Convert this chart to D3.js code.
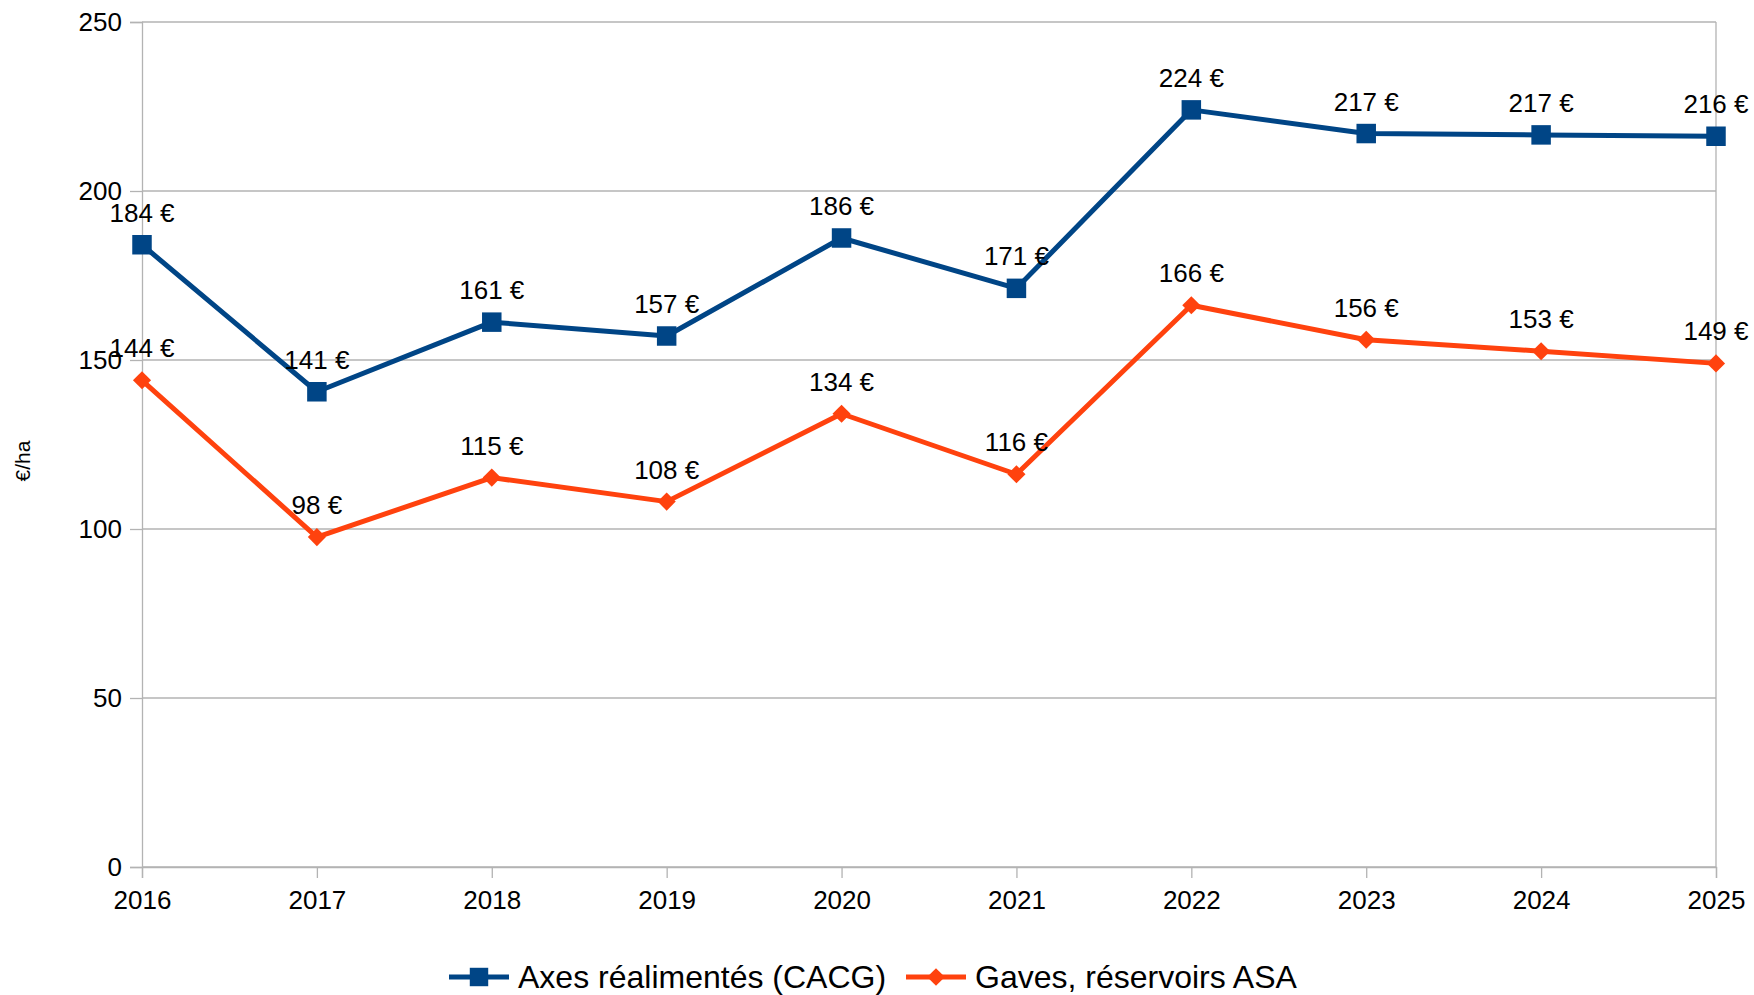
<!DOCTYPE html>
<html>
<head>
<meta charset="utf-8">
<script src="https://cdn.jsdelivr.net/npm/d3@7"></script>
<style>
  body { margin: 0; background: #fff; }
  text { font-family: "Liberation Sans", Arial, sans-serif; fill: #000; }
</style>
</head>
<body>
<div id="chart"></div>
<script>
// data
var years = ["2016", "2017", "2018", "2019", "2020", "2021", "2022", "2023", "2024", "2025"]
var cacg = [184.1, 140.6, 161.2, 157.1, 186.1, 171.2, 224.0, 217.0, 216.6, 216.2]
var gaves = [144.0, 97.6, 115.2, 108.1, 134.1, 116.2, 166.2, 156.0, 152.6, 149.0]
var yTicks = [0, 50, 100, 150, 200, 250]
var seriesNames = ["Axes réalimentés (CACG)", "Gaves, réservoirs ASA"]

var W = 1754, H = 995
var margin = { top: 22, right: 38, bottom: 128, left: 142 }
var width = W - margin.left - margin.right,
    height = H - margin.top - margin.bottom

var blue = "#004586", orange = "#ff420e", grid = "#b3b3b3"

var svg = d3.select("#chart")
    .append("svg")
    .attr("width", W)
    .attr("height", H)

var g = svg.append("g")
    .attr("transform", "translate(" + margin.left + "," + margin.top + ")")

var x = d3.scalePoint()
    .domain(years)
    .range([0, width])

var y = d3.scaleLinear()
    .domain([0, 250])
    .range([height, 0])

// y axis + horizontal grid
var yAxis = g.append("g")
    .call(d3.axisLeft(y).tickValues(yTicks).tickSize(12).tickPadding(8))
yAxis.select(".domain").attr("stroke", grid).attr("stroke-width", 1.3)
yAxis.selectAll(".tick line").attr("stroke", grid).attr("stroke-width", 1.3)
yAxis.selectAll(".tick text")
    .style("font-size", "26px")
    .style("font-family", "Liberation Sans, Arial, sans-serif")
    .attr("fill", "#000")

g.append("g")
    .selectAll("line")
    .data(yTicks)
    .enter()
    .append("line")
    .attr("x1", 0)
    .attr("x2", width)
    .attr("y1", function(d) { return y(d) })
    .attr("y2", function(d) { return y(d) })
    .attr("stroke", grid)
    .attr("stroke-width", 1.3)

// right border
g.append("line")
    .attr("x1", width).attr("x2", width)
    .attr("y1", 0).attr("y2", height)
    .attr("stroke", grid)
    .attr("stroke-width", 1.3)

// x axis
var xAxis = g.append("g")
    .attr("transform", "translate(0," + height + ")")
    .call(d3.axisBottom(x).tickSize(11).tickPadding(13))
xAxis.select(".domain").attr("stroke", grid).attr("stroke-width", 1.3)
xAxis.selectAll(".tick line").attr("stroke", grid).attr("stroke-width", 1.3)
xAxis.selectAll(".tick text")
    .style("font-size", "26px")
    .style("font-family", "Liberation Sans, Arial, sans-serif")
    .attr("fill", "#000")

// y axis title
svg.append("text")
    .attr("transform", "translate(30,461) rotate(-90)")
    .attr("text-anchor", "middle")
    .style("font-size", "21px")
    .text("€/ha")

var line = d3.line()
    .x(function(d, i) { return x(years[i]) })
    .y(function(d) { return y(d) })

function drawSeries(values, color, shape) {
    g.append("path")
        .datum(values)
        .attr("fill", "none")
        .attr("stroke", color)
        .attr("stroke-width", 5)
        .attr("stroke-linejoin", "round")
        .attr("d", line)

    g.selectAll(null)
        .data(values)
        .enter()
        .append("path")
        .attr("d", d3.symbol().type(shape === "square" ? d3.symbolSquare : d3.symbolDiamond2)
            .size(shape === "square" ? 380 : 210))
        .attr("transform", function(d, i) {
            return "translate(" + x(years[i]) + "," + y(d) + ")"
        })
        .attr("fill", color)

    g.selectAll(null)
        .data(values)
        .enter()
        .append("text")
        .attr("x", function(d, i) { return x(years[i]) })
        .attr("y", function(d) { return y(d) - 23 })
        .attr("text-anchor", "middle")
        .style("font-size", "26px")
        .text(function(d) { return Math.round(d) + " €" })
}

drawSeries(cacg, blue, "square")
drawSeries(gaves, orange, "diamond")

// legend
var legend = svg.append("g").attr("transform", "translate(0,977)")
var items = [
    { name: seriesNames[0], color: blue, shape: d3.symbolSquare, size: 340, x0: 449 },
    { name: seriesNames[1], color: orange, shape: d3.symbolDiamond2, size: 200, x0: 906 }
]
items.forEach(function(it) {
    legend.append("line")
        .attr("x1", it.x0).attr("x2", it.x0 + 60)
        .attr("y1", 0).attr("y2", 0)
        .attr("stroke", it.color)
        .attr("stroke-width", 5)
    legend.append("path")
        .attr("d", d3.symbol().type(it.shape).size(it.size))
        .attr("transform", "translate(" + (it.x0 + 30) + ",0)")
        .attr("fill", it.color)
    legend.append("text")
        .attr("x", it.x0 + 69)
        .attr("y", 11)
        .style("font-size", "32px")
        .text(it.name)
})
</script>
</body>
</html>
